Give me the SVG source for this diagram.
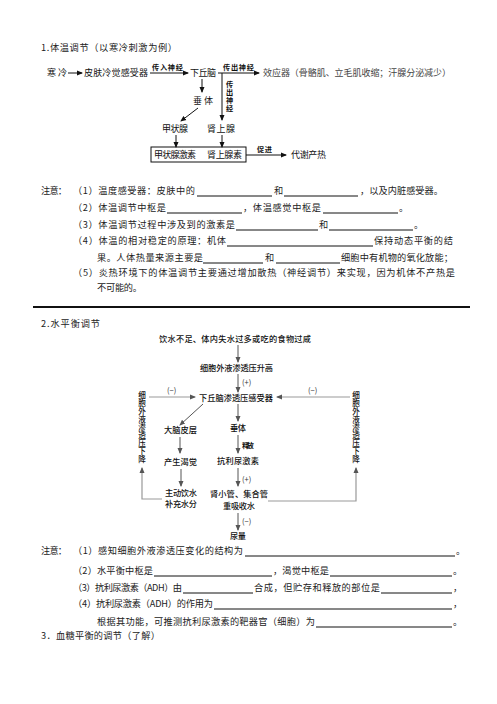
<svg xmlns="http://www.w3.org/2000/svg" width="497" height="704" viewBox="0 0 497 704">
<style>
text{font-family:"Noto Sans CJK SC","Noto Sans",sans-serif;fill:#222;}
.t{font-size:9.2px;}
.d{font-size:9px;fill:#111;}
.w{font-size:8.2px;fill:#111;font-weight:500;}
.v{font-size:7.6px;fill:#111;font-weight:500;writing-mode:vertical-rl;text-orientation:upright;letter-spacing:0.5px;}
.vl{font-size:7.2px;font-weight:bold;fill:#111;writing-mode:vertical-rl;text-orientation:upright;letter-spacing:0.6px;}
.lb{font-size:7.2px;font-weight:bold;fill:#111;}
.sm{font-size:7.5px;fill:#333;}
.ln{stroke:#111;stroke-width:1;fill:none;}
.ul{stroke:#111;stroke-width:1;}
.g{stroke:#999;stroke-width:1.2;fill:none;}
.gd{stroke:#555;stroke-width:1;fill:none;}
</style>
<defs>
<marker id="ab" markerWidth="6" markerHeight="6" refX="5" refY="3" orient="auto" markerUnits="userSpaceOnUse"><path d="M0,0.5 L6,3 L0,5.5 Z" fill="#111"/></marker>
<marker id="ag" markerWidth="6" markerHeight="6" refX="5" refY="3" orient="auto" markerUnits="userSpaceOnUse"><path d="M0,0.5 L6,3 L0,5.5 Z" fill="#555"/></marker>
</defs>
<rect width="497" height="704" fill="#fff"/>

<!-- Section 1 title -->
<text class="t" x="41" y="50.5" textLength="136">1.体温调节（以寒冷刺激为例）</text>

<!-- Top diagram nodes -->
<g id="n-cold"><text class="d" x="47" y="76.3" textLength="20">寒冷</text></g>
<g id="n-skin"><text class="d" x="84" y="76.3" textLength="64">皮肤冷觉感受器</text></g>
<g id="n-hypo"><text class="d" x="190" y="76.3" textLength="26">下丘脑</text></g>
<g id="n-effector"><text class="d" x="263" y="76.3" textLength="188" style="fill:#444">效应器（骨骼肌、立毛肌收缩；汗腺分泌减少）</text></g>
<g id="n-pit"><text class="d" x="193" y="104.3" textLength="20">垂体</text></g>
<g id="n-thy"><text class="d" x="162" y="132.3" textLength="26">甲状腺</text></g>
<g id="n-adr"><text class="d" x="207" y="132.3" textLength="28">肾上腺</text></g>
<g id="n-hormones">
<rect x="151" y="147" width="95" height="15" fill="none" stroke="#111" stroke-width="1"/>
<text class="d" x="154" y="158" textLength="42">甲状腺激素</text>
<text class="d" x="207" y="158" textLength="35">肾上腺素</text>
</g>
<g id="n-heat"><text class="d" x="291" y="158" textLength="35">代谢产热</text></g>

<!-- Top diagram connectors -->
<g id="connectors-1">
<path class="ln" d="M68,73 H82" marker-end="url(#ab)"/>
<path class="ln" d="M150,73 H188" marker-end="url(#ab)"/>
<text class="lb" x="152" y="70" textLength="31">传入神经</text>
<path class="ln" d="M218,73 H259" marker-end="url(#ab)"/>
<path class="ln" d="M222,73 V120" marker-end="url(#ab)"/>
<text class="lb" x="223" y="70" textLength="31">传出神经</text>
<text class="vl" x="229.5" y="81">传出神经</text>
<path class="ln" d="M202,79 V92" marker-end="url(#ab)"/>
<path class="ln" d="M198,108 L181,121" marker-end="url(#ab)"/>
<path class="ln" d="M176,135 V147" marker-end="url(#ab)"/>
<path class="ln" d="M222,135 V147" marker-end="url(#ab)"/>
<path class="ln" d="M246,155 H286" marker-end="url(#ab)"/>
<text class="lb" x="257" y="152" textLength="15">促进</text>
</g>

<!-- Notes section 1 -->
<g id="notes-1">
<text class="t" x="41" y="194.3" textLength="26">注意：</text>
<text class="t" x="73" y="194.3" textLength="122">（1）温度感受器：皮肤中的</text>
<line class="ul" x1="197" y1="196" x2="272" y2="196"/>
<text class="t" x="274" y="194.3" textLength="9">和</text>
<line class="ul" x1="284" y1="196" x2="358" y2="196"/>
<text class="t" x="360" y="194.3" textLength="83">，以及内脏感受器。</text>

<text class="t" x="73" y="211.3" textLength="93">（2）体温调节中枢是</text>
<line class="ul" x1="167" y1="213" x2="242" y2="213"/>
<text class="t" x="243" y="211.3" textLength="78">，体温感觉中枢是</text>
<line class="ul" x1="323" y1="213" x2="398" y2="213"/>
<text class="t" x="399" y="211.3">。</text>

<text class="t" x="73" y="228.3" textLength="162">（3）体温调节过程中涉及到的激素是</text>
<line class="ul" x1="236" y1="230" x2="318" y2="230"/>
<text class="t" x="319" y="228.3" textLength="9">和</text>
<line class="ul" x1="329" y1="230" x2="413" y2="230"/>
<text class="t" x="414" y="228.3">。</text>

<text class="t" x="73" y="244.3" textLength="153">（4）体温的相对稳定的原理：机体</text>
<line class="ul" x1="227" y1="246" x2="373" y2="246"/>
<text class="t" x="374" y="244.3" textLength="79">保持动态平衡的结</text>

<text class="t" x="97" y="261.3" textLength="106">果。人体热量来源主要是</text>
<line class="ul" x1="203" y1="263" x2="263" y2="263"/>
<text class="t" x="265" y="261.3" textLength="9">和</text>
<line class="ul" x1="276" y1="263" x2="340" y2="263"/>
<text class="t" x="341" y="261.3" textLength="112">细胞中有机物的氧化放能；</text>

<text class="t" x="73" y="276.3" textLength="382">（5）炎热环境下的体温调节主要通过增加散热（神经调节）来实现，因为机体不产热是</text>
<text class="t" x="97" y="291.3" textLength="45">不可能的。</text>
</g>

<!-- separator -->
<line x1="33" y1="307" x2="470" y2="307" stroke="#111" stroke-width="2"/>

<!-- Section 2 title -->
<text class="t" x="41" y="327.3" textLength="59">2.水平衡调节</text>

<!-- Water diagram nodes -->
<g id="w-cause"><text class="w" x="159" y="342" textLength="152">饮水不足、体内失水过多或吃的食物过咸</text></g>
<g id="w-osm-up"><text class="w" x="200" y="371" textLength="73">细胞外液渗透压升高</text></g>
<g id="w-hypo"><text class="w" x="199" y="401" textLength="74">下丘脑渗透压感受器</text></g>
<g id="w-cortex"><text class="w" x="164" y="433" textLength="33">大脑皮层</text></g>
<g id="w-pit"><text class="w" x="230" y="431" textLength="16">垂体</text></g>
<g id="w-thirst"><text class="w" x="164" y="465" textLength="33">产生渴觉</text></g>
<g id="w-adh"><text class="w" x="217" y="464" textLength="42">抗利尿激素</text></g>
<g id="w-drink">
<text class="w" x="165" y="496" textLength="32">主动饮水</text>
<text class="w" x="165" y="507" textLength="32">补充水分</text>
</g>
<g id="w-kidney">
<text class="w" x="210" y="497" textLength="58">肾小管、集合管</text>
<text class="w" x="223" y="509" textLength="32">重吸收水</text>
</g>
<g id="w-urine"><text class="w" x="230" y="539" textLength="16">尿量</text></g>
<g id="w-osm-down-l"><text class="v" x="142" y="391">细胞外液渗透压下降</text></g>
<g id="w-osm-down-r"><text class="v" x="356" y="391">细胞外液渗透压下降</text></g>

<!-- Water diagram connectors -->
<g id="connectors-2">
<path class="gd" d="M238,345 V362" marker-end="url(#ag)"/>
<path class="gd" d="M238,374 V392" marker-end="url(#ag)"/>
<text class="sm" x="242" y="385">(+)</text>
<path class="g" d="M149,397 H195" marker-end="url(#ag)"/>
<text class="sm" x="167" y="393">(−)</text>
<path class="g" d="M350,397 H277" marker-end="url(#ag)"/>
<text class="sm" x="308" y="393">(−)</text>
<path class="gd" d="M203,404 L180,425" marker-end="url(#ag)"/>
<path class="gd" d="M238,404 V421" marker-end="url(#ag)"/>
<path class="gd" d="M180,437 V453" marker-end="url(#ag)"/>
<path class="gd" d="M238,435 V453" marker-end="url(#ag)"/>
<text class="lb" x="242" y="448" textLength="12">释放</text>
<path class="gd" d="M181,469 V486" marker-end="url(#ag)"/>
<path class="gd" d="M238,468 V486" marker-end="url(#ag)"/>
<text class="sm" x="242" y="482">(+)</text>
<path class="g" d="M162,499 H142 V468" marker-end="url(#ag)"/>
<path class="g" d="M268,501 H356 V468" marker-end="url(#ag)"/>
<path class="gd" d="M238,513 V530" marker-end="url(#ag)"/>
<text class="sm" x="242" y="524">(−)</text>
</g>

<!-- Notes section 2 -->
<g id="notes-2">
<text class="t" x="41" y="554.3" textLength="26">注意：</text>
<text class="t" x="73" y="554.3" textLength="170">（1）感知细胞外液渗透压变化的结构为</text>
<line class="ul" x1="245" y1="556" x2="455" y2="556"/>
<text class="t" x="456" y="554.3">。</text>

<text class="t" x="73" y="574.3" textLength="80">（2）水平衡中枢是</text>
<line class="ul" x1="154" y1="576" x2="272" y2="576"/>
<text class="t" x="273" y="574.3" textLength="56">，渴觉中枢是</text>
<line class="ul" x1="330" y1="576" x2="452" y2="576"/>
<text class="t" x="453" y="574.3">。</text>

<text class="t" x="73" y="591.3" textLength="109">（3）抗利尿激素（ADH）由</text>
<line class="ul" x1="183" y1="593" x2="253" y2="593"/>
<text class="t" x="254" y="591.3" textLength="126">合成，但贮存和释放的部位是</text>
<line class="ul" x1="381" y1="593" x2="452" y2="593"/>
<text class="t" x="453" y="591.3">，</text>

<text class="t" x="73" y="607.3" textLength="140">（4）抗利尿激素（ADH）的作用为</text>
<line class="ul" x1="214" y1="609" x2="452" y2="609"/>
<text class="t" x="453" y="607.3">，</text>

<text class="t" x="97" y="625.3" textLength="218">根据其功能，可推测抗利尿激素的靶器官（细胞）为</text>
<line class="ul" x1="316" y1="627" x2="452" y2="627"/>
<text class="t" x="453" y="625.3">。</text>
</g>

<text class="t" x="41" y="639.3" textLength="119">3．血糖平衡的调节（了解）</text>
</svg>
